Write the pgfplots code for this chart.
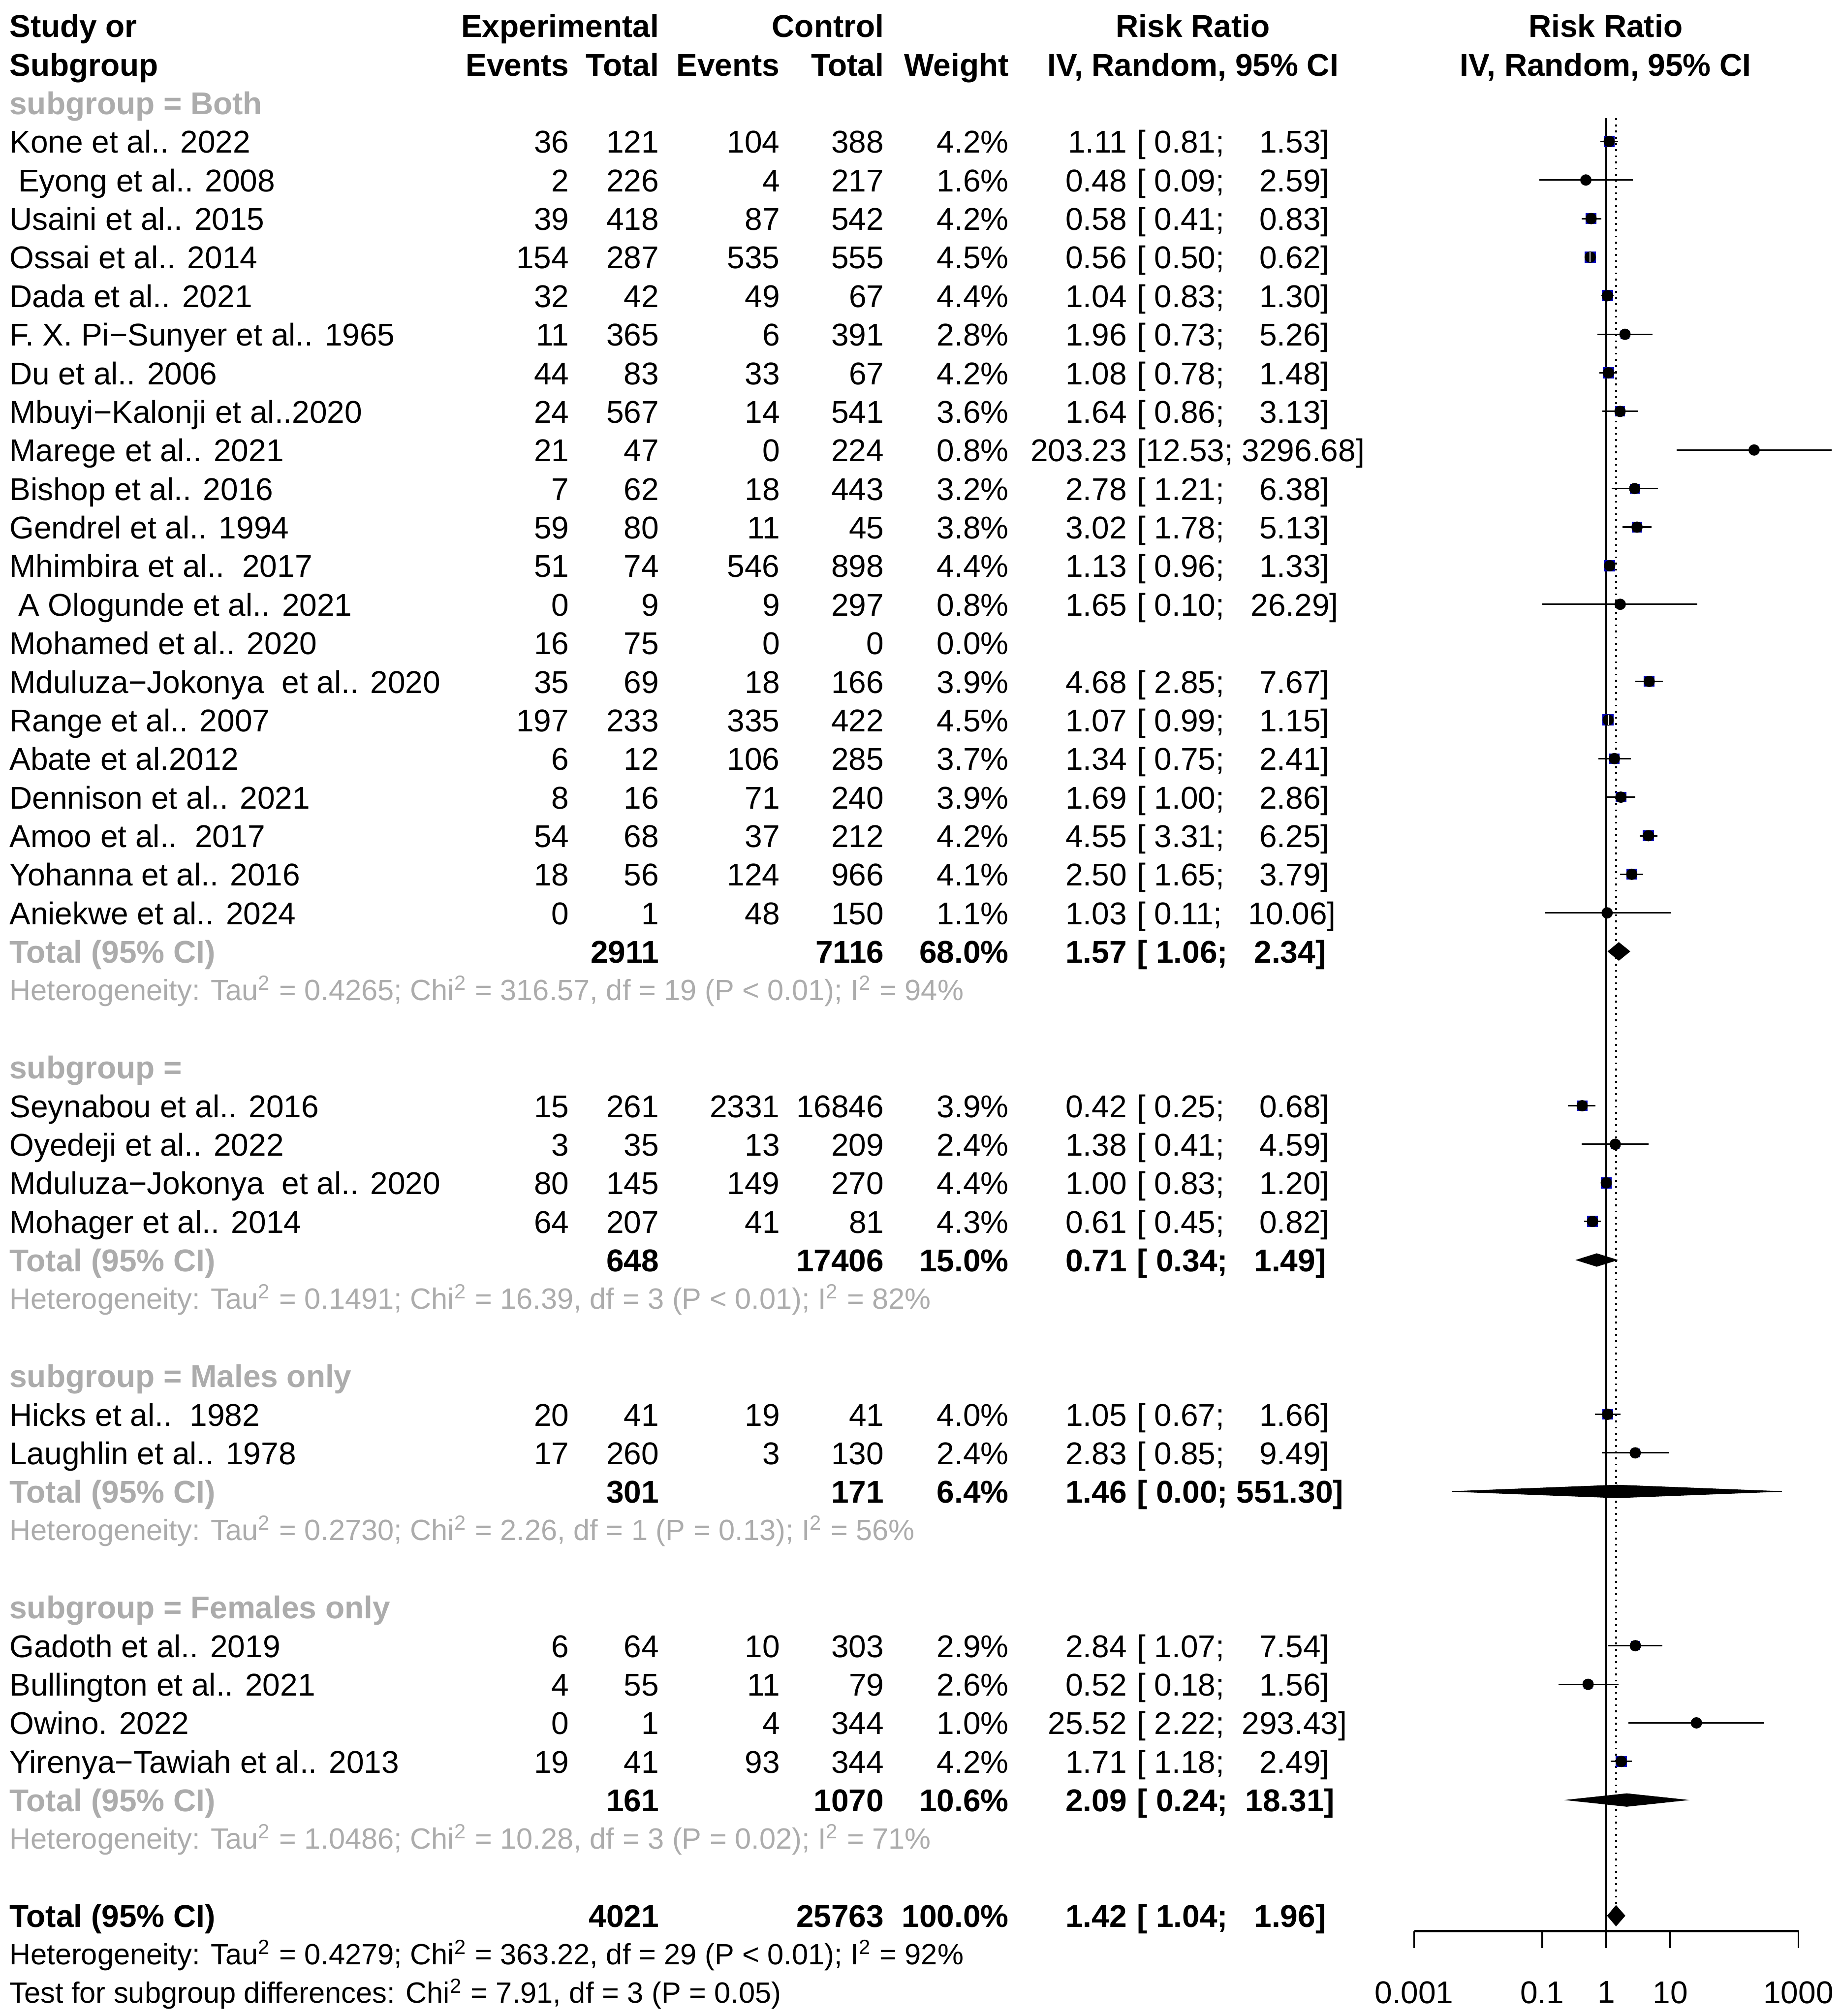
\documentclass[border=0pt]{standalone}
\usepackage{fontspec}
\setmainfont{Liberation Sans}
\usepackage{pgfplots}
\usepackage{pgfplotstable}
\pgfplotsset{compat=1.18}

\definecolor{sqblue}{RGB}{0,0,195}
\definecolor{subgray}{RGB}{172,172,172}

% study estimates: row position (px from top), RR, CI, weight in %
\pgfplotstableread{
y    est    lo    hi      w
110  1.11   0.81  1.53    4.2
140  0.48   0.09  2.59    1.6
170  0.58   0.41  0.83    4.2
230  1.04   0.83  1.30    4.4
260  1.96   0.73  5.26    2.8
290  1.08   0.78  1.48    4.2
320  1.64   0.86  3.13    3.6
350  203.23 12.53 3296.68 0.8
380  2.78   1.21  6.38    3.2
410  3.02   1.78  5.13    3.8
440  1.13   0.96  1.33    4.4
470  1.65   0.10  26.29   0.8
530  4.68   2.85  7.67    3.9
590  1.34   0.75  2.41    3.7
620  1.69   1.00  2.86    3.9
650  4.55   3.31  6.25    4.2
680  2.50   1.65  3.79    4.1
710  1.03   0.11  10.06   1.1
860  0.42   0.25  0.68    3.9
890  1.38   0.41  4.59    2.4
920  1.00   0.83  1.20    4.4
950  0.61   0.45  0.82    4.3
1100 1.05   0.67  1.66    4.0
1130 2.83   0.85  9.49    2.4
1280 2.84   1.07  7.54    2.9
1310 0.52   0.18  1.56    2.6
1340 25.52  2.22  293.43  1.0
1370 1.71   1.18  2.49    4.2
}\studies

% CI narrower than the square: drawn in white
\pgfplotstableread{
y    est    lo    hi      w
200  0.56   0.50  0.62    4.5
560  1.07   0.99  1.15    4.5
}\inside

\tikzset{tx/.style={inner sep=0pt}}
\newcommand{\notefont}{\fontsize{11.4pt}{13pt}\selectfont}

% y, study, exp events, exp total, ctrl events, ctrl total, weight, RR, CI
\newcommand{\study}[9]{%
  \node[tx,anchor=base west] at (axis cs:7,#1+9) {#2};
  \node[tx,anchor=base east] at (axis cs:443,#1+9) {#3};
  \node[tx,anchor=base east] at (axis cs:513,#1+9) {#4};
  \node[tx,anchor=base east] at (axis cs:607,#1+9) {#5};
  \node[tx,anchor=base east] at (axis cs:688,#1+9) {#6};
  \node[tx,anchor=base east] at (axis cs:785,#1+9) {#7};
  \node[tx,anchor=base east] at (axis cs:877,#1+9) {#8};
  \node[tx,anchor=base west] at (axis cs:884,#1+9) {#9};
}
% y, label colour, exp total, ctrl total, weight, RR, CI
\newcommand{\total}[7]{%
  \node[tx,anchor=base west,text=#2] at (axis cs:7,#1+9) {\bfseries Total (95\% CI)};
  \node[tx,anchor=base east] at (axis cs:513,#1+9) {\bfseries #3};
  \node[tx,anchor=base east] at (axis cs:688,#1+9) {\bfseries #4};
  \node[tx,anchor=base east] at (axis cs:785,#1+9) {\bfseries #5};
  \node[tx,anchor=base east] at (axis cs:877,#1+9) {\bfseries #6};
  \node[tx,anchor=base west] at (axis cs:884,#1+9) {\bfseries #7};
}
\newcommand{\sub}[2]{\node[tx,anchor=base west,text=subgray] at (axis cs:7,#1+9) {\bfseries #2};}
\newcommand{\note}[3]{\node[tx,anchor=base west,text=#2,font=\notefont] at (axis cs:7,#1+8) {#3};}

\begin{document}
\begin{tikzpicture}[font=\fontsize{12.25pt}{14pt}\selectfont]
\useasboundingbox (0,0) rectangle (716pt,784pt);

\begin{axis}[
  at={(0,0)}, anchor=south west,
  scale only axis, width=716pt, height=784pt,
  xmin=0, xmax=1432, ymin=0, ymax=1568, y dir=reverse,
  hide axis, clip=false]

  % header
  \node[tx,anchor=base west] at (axis cs:7,29) {\bfseries Study or};
  \node[tx,anchor=base west] at (axis cs:7,59) {\bfseries Subgroup};
  \node[tx,anchor=base east] at (axis cs:513,29) {\bfseries Experimental};
  \node[tx,anchor=base east] at (axis cs:688,29) {\bfseries Control};
  \node[tx,anchor=base] at (axis cs:928,29) {\bfseries Risk Ratio};
  \node[tx,anchor=base] at (axis cs:1249,29) {\bfseries Risk Ratio};
  \node[tx,anchor=base east] at (axis cs:443,59) {\bfseries Events};
  \node[tx,anchor=base east] at (axis cs:513,59) {\bfseries Total};
  \node[tx,anchor=base east] at (axis cs:607,59) {\bfseries Events};
  \node[tx,anchor=base east] at (axis cs:688,59) {\bfseries Total};
  \node[tx,anchor=base east] at (axis cs:785,59) {\bfseries Weight};
  \node[tx,anchor=base] at (axis cs:928,59) {\bfseries IV, Random, 95\% CI};
  \node[tx,anchor=base] at (axis cs:1249,59) {\bfseries IV, Random, 95\% CI};

  \sub{80}{subgroup = Both}
  \study{110}{Kone et al.. 2022}{36}{121}{104}{388}{4.2\%}{1.11}{[\ 0.81;\ \ \ \ 1.53]}
  \study{140}{\ Eyong et al.. 2008}{2}{226}{4}{217}{1.6\%}{0.48}{[\ 0.09;\ \ \ \ 2.59]}
  \study{170}{Usaini et al.. 2015}{39}{418}{87}{542}{4.2\%}{0.58}{[\ 0.41;\ \ \ \ 0.83]}
  \study{200}{Ossai et al.. 2014}{154}{287}{535}{555}{4.5\%}{0.56}{[\ 0.50;\ \ \ \ 0.62]}
  \study{230}{Dada et al.. 2021}{32}{42}{49}{67}{4.4\%}{1.04}{[\ 0.83;\ \ \ \ 1.30]}
  \study{260}{F. X. Pi−Sunyer et al.. 1965}{11}{365}{6}{391}{2.8\%}{1.96}{[\ 0.73;\ \ \ \ 5.26]}
  \study{290}{Du et al.. 2006}{44}{83}{33}{67}{4.2\%}{1.08}{[\ 0.78;\ \ \ \ 1.48]}
  \study{320}{Mbuyi−Kalonji et al..2020}{24}{567}{14}{541}{3.6\%}{1.64}{[\ 0.86;\ \ \ \ 3.13]}
  \study{350}{Marege et al.. 2021}{21}{47}{0}{224}{0.8\%}{203.23}{[12.53;\ 3296.68]}
  \study{380}{Bishop et al.. 2016}{7}{62}{18}{443}{3.2\%}{2.78}{[\ 1.21;\ \ \ \ 6.38]}
  \study{410}{Gendrel et al.. 1994}{59}{80}{11}{45}{3.8\%}{3.02}{[\ 1.78;\ \ \ \ 5.13]}
  \study{440}{Mhimbira et al..\ \ 2017}{51}{74}{546}{898}{4.4\%}{1.13}{[\ 0.96;\ \ \ \ 1.33]}
  \study{470}{\ A Ologunde et al.. 2021}{0}{9}{9}{297}{0.8\%}{1.65}{[\ 0.10;\ \ \ 26.29]}
  \study{500}{Mohamed et al.. 2020}{16}{75}{0}{0}{0.0\%}{}{}
  \study{530}{Mduluza−Jokonya\ \ et al.. 2020}{35}{69}{18}{166}{3.9\%}{4.68}{[\ 2.85;\ \ \ \ 7.67]}
  \study{560}{Range et al.. 2007}{197}{233}{335}{422}{4.5\%}{1.07}{[\ 0.99;\ \ \ \ 1.15]}
  \study{590}{Abate et al.2012}{6}{12}{106}{285}{3.7\%}{1.34}{[\ 0.75;\ \ \ \ 2.41]}
  \study{620}{Dennison et al.. 2021}{8}{16}{71}{240}{3.9\%}{1.69}{[\ 1.00;\ \ \ \ 2.86]}
  \study{650}{Amoo et al..\ \ 2017}{54}{68}{37}{212}{4.2\%}{4.55}{[\ 3.31;\ \ \ \ 6.25]}
  \study{680}{Yohanna et al.. 2016}{18}{56}{124}{966}{4.1\%}{2.50}{[\ 1.65;\ \ \ \ 3.79]}
  \study{710}{Aniekwe et al.. 2024}{0}{1}{48}{150}{1.1\%}{1.03}{[\ 0.11;\ \ \ 10.06]}
  \total{740}{subgray}{2911}{7116}{68.0\%}{1.57}{[\ 1.06;\ \ \ 2.34]}
  \note{770}{subgray}{Heterogeneity: Tau\textsuperscript{2} = 0.4265; Chi\textsuperscript{2} = 316.57, df = 19 (P < 0.01); I\textsuperscript{2} = 94\%}

  \sub{830}{subgroup =}
  \study{860}{Seynabou et al.. 2016}{15}{261}{2331}{16846}{3.9\%}{0.42}{[\ 0.25;\ \ \ \ 0.68]}
  \study{890}{Oyedeji et al.. 2022}{3}{35}{13}{209}{2.4\%}{1.38}{[\ 0.41;\ \ \ \ 4.59]}
  \study{920}{Mduluza−Jokonya\ \ et al.. 2020}{80}{145}{149}{270}{4.4\%}{1.00}{[\ 0.83;\ \ \ \ 1.20]}
  \study{950}{Mohager et al.. 2014}{64}{207}{41}{81}{4.3\%}{0.61}{[\ 0.45;\ \ \ \ 0.82]}
  \total{980}{subgray}{648}{17406}{15.0\%}{0.71}{[\ 0.34;\ \ \ 1.49]}
  \note{1010}{subgray}{Heterogeneity: Tau\textsuperscript{2} = 0.1491; Chi\textsuperscript{2} = 16.39, df = 3 (P < 0.01); I\textsuperscript{2} = 82\%}

  \sub{1070}{subgroup = Males only}
  \study{1100}{Hicks et al..\ \ 1982}{20}{41}{19}{41}{4.0\%}{1.05}{[\ 0.67;\ \ \ \ 1.66]}
  \study{1130}{Laughlin et al.. 1978}{17}{260}{3}{130}{2.4\%}{2.83}{[\ 0.85;\ \ \ \ 9.49]}
  \total{1160}{subgray}{301}{171}{6.4\%}{1.46}{[\ 0.00;\ 551.30]}
  \note{1190}{subgray}{Heterogeneity: Tau\textsuperscript{2} = 0.2730; Chi\textsuperscript{2} = 2.26, df = 1 (P = 0.13); I\textsuperscript{2} = 56\%}

  \sub{1250}{subgroup = Females only}
  \study{1280}{Gadoth et al.. 2019}{6}{64}{10}{303}{2.9\%}{2.84}{[\ 1.07;\ \ \ \ 7.54]}
  \study{1310}{Bullington et al.. 2021}{4}{55}{11}{79}{2.6\%}{0.52}{[\ 0.18;\ \ \ \ 1.56]}
  \study{1340}{Owino. 2022}{0}{1}{4}{344}{1.0\%}{25.52}{[\ 2.22;\ \ 293.43]}
  \study{1370}{Yirenya−Tawiah et al.. 2013}{19}{41}{93}{344}{4.2\%}{1.71}{[\ 1.18;\ \ \ \ 2.49]}
  \total{1400}{subgray}{161}{1070}{10.6\%}{2.09}{[\ 0.24;\ \ 18.31]}
  \note{1430}{subgray}{Heterogeneity: Tau\textsuperscript{2} = 1.0486; Chi\textsuperscript{2} = 10.28, df = 3 (P = 0.02); I\textsuperscript{2} = 71\%}

  \total{1490}{black}{4021}{25763}{100.0\%}{1.42}{[\ 1.04;\ \ \ 1.96]}
  \note{1520}{black}{Heterogeneity: Tau\textsuperscript{2} = 0.4279; Chi\textsuperscript{2} = 363.22, df = 29 (P < 0.01); I\textsuperscript{2} = 92\%}
  \note{1550}{black}{Test for subgroup differences: Chi\textsuperscript{2} = 7.91, df = 3 (P = 0.05)}
\end{axis}

\begin{axis}[
  at={(550pt,33pt)}, anchor=south west,
  scale only axis, width=149.5pt, height=751pt,
  xmode=log, xmin=0.001, xmax=1000,
  ymin=0, ymax=1502, y dir=reverse,
  clip=false,
  axis x line*=bottom, axis y line=none,
  xtick={0.001,0.1,1,10,1000},
  xticklabels={0.001,0.1,1,10,1000},
  xminorticks=false,
  tick align=outside, major tick length=6.5pt,
  x axis line style={line width=0.9pt},
  xtick style={line width=0.7pt, black},
  xticklabel style={yshift=-9.5pt}]

  % reference lines: no effect and pooled estimate
  \addplot[black, line width=0.75pt] coordinates {(1,92) (1,1502)};
  \addplot[black, line width=0.7pt, dash pattern=on 0.7pt off 1.7pt] coordinates {(1.42,92) (1.42,1481)};

  % squares, size by weight
  \addplot[scatter, only marks, mark=square*,
    scatter/use mapped color={draw=sqblue, fill=sqblue},
    visualization depends on={0.95*sqrt(\thisrow{w}) \as \msz},
    scatter/@pre marker code/.append style={/tikz/mark size=\msz}]
    table[x=est, y=y] {\studies};
  \addplot[scatter, only marks, mark=square*,
    scatter/use mapped color={draw=sqblue, fill=sqblue},
    visualization depends on={0.95*sqrt(\thisrow{w}) \as \msz},
    scatter/@pre marker code/.append style={/tikz/mark size=\msz}]
    table[x=est, y=y] {\inside};

  % confidence intervals
  \addplot[only marks, mark=none,
    error bars/.cd, x dir=both, x explicit, error mark=none,
    error bar style={black, line width=0.6pt}]
    table[x=est, y=y, x error plus expr=\thisrow{hi}-\thisrow{est},
      x error minus expr=\thisrow{est}-\thisrow{lo}] {\studies};
  \addplot[only marks, mark=none,
    error bars/.cd, x dir=both, x explicit, error mark=none,
    error bar style={white, line width=0.6pt}]
    table[x=est, y=y, x error plus expr=\thisrow{hi}-\thisrow{est},
      x error minus expr=\thisrow{est}-\thisrow{lo}] {\inside};

  % tick at each estimate
  \addplot[scatter, only marks, mark=|,
    scatter/use mapped color={draw=black},
    mark options={line width=0.45pt},
    visualization depends on={0.95*sqrt(\thisrow{w}) \as \msz},
    scatter/@pre marker code/.append style={/tikz/mark size=\msz}]
    table[x=est, y=y] {\studies};
  \addplot[scatter, only marks, mark=|,
    scatter/use mapped color={draw=white},
    mark options={line width=0.45pt},
    visualization depends on={0.95*sqrt(\thisrow{w}) \as \msz},
    scatter/@pre marker code/.append style={/tikz/mark size=\msz}]
    table[x=est, y=y] {\inside};

  % pooled estimates
  \addplot[fill=black, draw=black, line width=0.2pt] coordinates {(1.06,740) (1.57,733) (2.34,740) (1.57,747)} -- cycle;
  \addplot[fill=black, draw=black, line width=0.2pt] coordinates {(0.34,980) (0.71,975) (1.49,980) (0.71,985)} -- cycle;
  \addplot[fill=black, draw=black, line width=0.2pt] coordinates {(0.0039,1160) (1.46,1155) (551.30,1160) (1.46,1165)} -- cycle;
  \addplot[fill=black, draw=black, line width=0.2pt] coordinates {(0.24,1400) (2.09,1395) (18.31,1400) (2.09,1405)} -- cycle;
  \addplot[fill=black, draw=black, line width=0.2pt] coordinates {(1.04,1490) (1.42,1482) (1.96,1490) (1.42,1498)} -- cycle;
\end{axis}
\end{tikzpicture}
\end{document}
